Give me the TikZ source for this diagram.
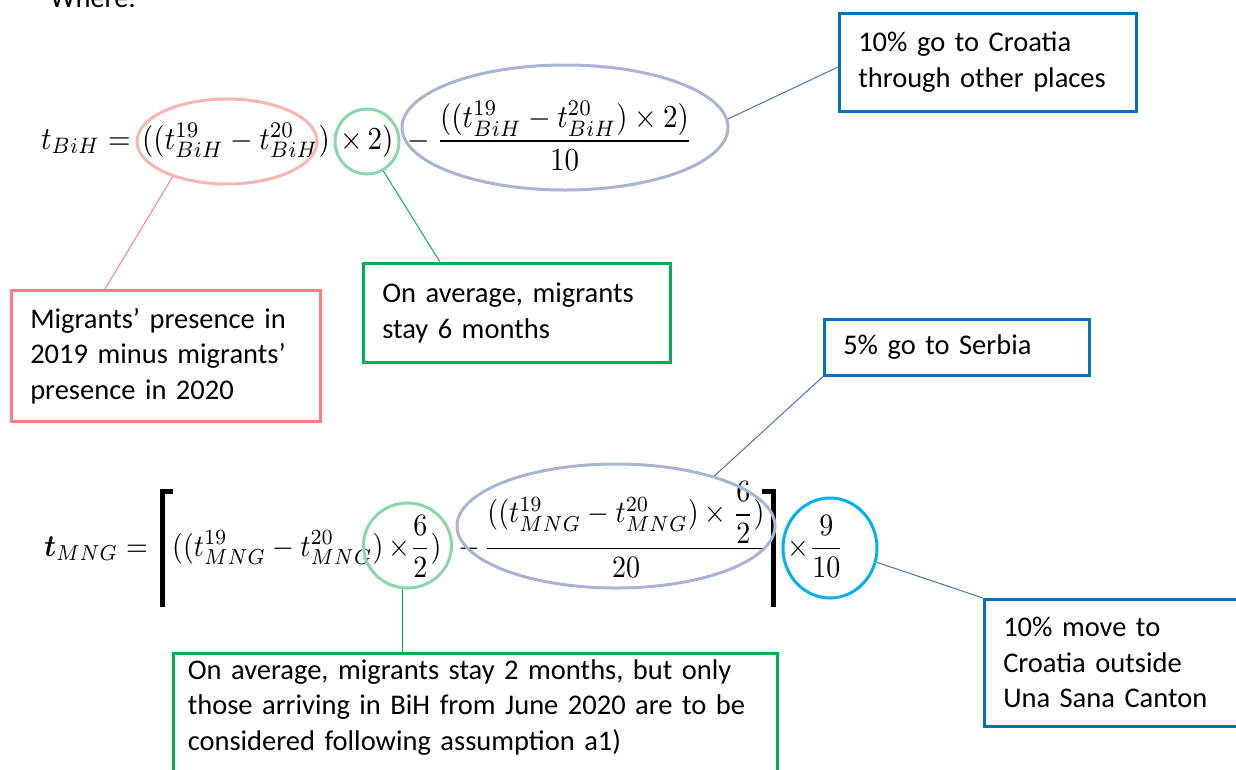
\documentclass[tikz,border=0pt]{standalone}
\usepackage[no-math]{fontspec}
\setmainfont{Carlito}
\usepackage{amsmath}
\usepackage{graphicx}
\usetikzlibrary{shapes.geometric,calc}
\definecolor{pinkell}{HTML}{F9B4B4}
\definecolor{pinkline}{HTML}{FF7C80}
\definecolor{greenell}{HTML}{8CD7AA}
\definecolor{greenline}{HTML}{00B050}
\definecolor{greyell}{HTML}{AAB4D2}
\definecolor{blueline}{HTML}{4472C4}
\definecolor{bluebox}{HTML}{0070C0}
\definecolor{cyanell}{HTML}{00B0F0}
\newcommand{\mA}[1]{\scalebox{2.9}[3.2]{$#1$}}
\newcommand{\mB}[1]{\scalebox{2.8}[3.1]{$#1$}}
\begin{document}
\begin{tikzpicture}[x=1pt,y=-1pt,
  txt/.style={font=\fontsize{28.5}{35.5}\selectfont, inner sep=0pt},
  mth/.style={inner sep=0pt},
  box/.style={draw, line width=2.5pt, font=\fontsize{28.5}{35.5}\selectfont, align=left, inner xsep=19pt, inner ysep=0pt, anchor=north west},
  ell/.style={ellipse, draw, line width=3pt, inner sep=0pt},
  conn/.style={line width=1pt},
  brk/.style={line width=5pt}]
\useasboundingbox (0,0) rectangle (1236,769);

\node[txt, anchor=base west] (where) at (50,7) {Where:};

% equation 1
\node[mth, anchor=base east] (m1) at (131,149) {\mA{t_{BiH}=}};
\node[mth, anchor=base west] (m2) at (142,149) {\mA{((t^{19}_{BiH}-t^{20}_{BiH})}};
\node[mth, anchor=base west] (m3) at (340,149) {\mA{\times\,2)}};
\node[mth, anchor=base west] (m4) at (407,149) {\mA{-}};
\node[mth, anchor=base] (m5) at (564.5,149) {\mA{\displaystyle\frac{((t^{19}_{BiH}-t^{20}_{BiH})\times 2)}{10}}};

% equation 2
\node[mth, anchor=base east] (n1) at (148,556) {\mB{\boldsymbol{t}_{MNG}=}};
\draw[brk] (173,491) -- (162.5,491) -- (162.5,607);
\node[mth, anchor=base west] (n3) at (172,556) {\mB{((t^{19}_{MNG}-t^{20}_{MNG})}};
\node[mth, anchor=base west] (n4) at (388,556) {\mB{\times\dfrac{6}{2})}};
\node[mth, anchor=base west] (n5) at (458,556) {\mB{-}};
\node[mth, anchor=base] (n6) at (626,556) {\mB{\displaystyle\frac{((t^{19}_{MNG}-t^{20}_{MNG})\times\dfrac{6}{2})}{20}}};
\draw[brk] (762,491) -- (773.5,491) -- (773.5,607);
\node[mth, anchor=base west] (n8) at (787,556) {\mB{\times\dfrac{9}{10}}};

% ellipses
\node[ell, draw=pinkell, minimum width=180pt, minimum height=85pt] (e1) at (227,141.5) {};
\node[ell, draw=greenell, minimum width=64pt, minimum height=65pt] (e2) at (367,141.5) {};
\node[ell, draw=greyell, minimum width=326pt, minimum height=125pt] (e3) at (565,127.5) {};
\node[ell, draw=greenell, minimum width=88pt, minimum height=85pt] (e4) at (407.5,545.5) {};
\node[ell, draw=greyell, minimum width=318pt, minimum height=124pt] (e5) at (616,526) {};
\node[ell, draw=cyanell, minimum width=94pt, minimum height=100pt] (e6) at (830,548) {};

% boxes
\node[box, draw=bluebox, text width=259pt, minimum height=98pt] (b1) at (838,12) {10\% go to Croatia\\through other places};
\node[box, draw=pinkline, text width=271pt, minimum height=131pt] (pb) at (10,289) {Migrants’ presence in\\2019 minus migrants’\\presence in 2020};
\node[box, draw=greenline, text width=269pt, minimum height=99pt] (gb) at (362,262) {On average, migrants\\stay 6 months};
\node[box, draw=bluebox, text width=227pt, minimum height=56pt] (sb) at (823,318) {5\% go to Serbia};
\node[box, draw=bluebox, text width=227pt, minimum height=127pt] (mb) at (983,598) {10\% move to\\Croatia outside\\Una Sana Canton};
\node[box, draw=greenline, text width=575pt, inner xsep=14.5pt, inner ysep=6pt] (g2) at (172,652) {On average, migrants stay 2 months, but only\\those arriving in BiH from June 2020 are to be\\considered following assumption a1)\rule[-60pt]{0pt}{0pt}};

% connectors
\draw[conn, pinkline] (e1.213) -- ($(pb.north west)+(95,0)$);
\draw[conn, greenline] (e2.299) -- ($(gb.north west)+(78,0)$);
\draw[conn, blueline] (e3.3.5) -- ($(b1.north west)+(0,55)$);
\draw[conn, blueline] (e5.27) -- (sb.south west);
\draw[conn, blueline] (e6.-17) -- (mb.north west);
\draw[conn, greenline] (e4.263) -- (e4.263 |- g2.north);
\end{tikzpicture}
\end{document}
